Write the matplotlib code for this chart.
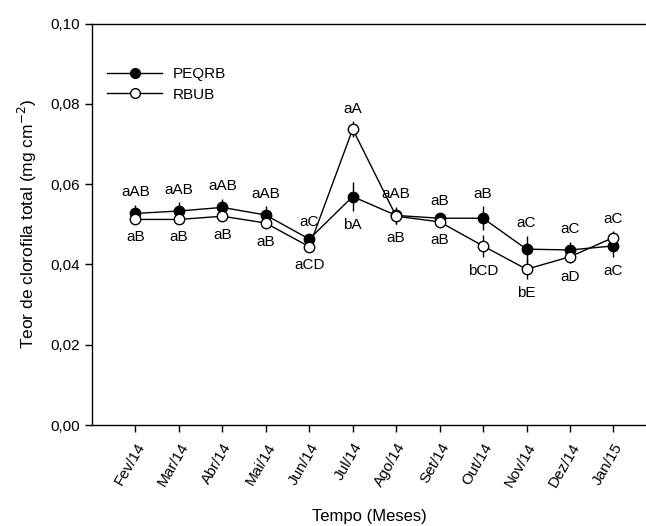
import matplotlib as mpl

mpl.use("Agg")
import matplotlib.pyplot as plt
from matplotlib.lines import Line2D
from matplotlib.ticker import FuncFormatter

mpl.rcParams.update({
    "font.family": ["Liberation Sans", "DejaVu Sans"],
    "font.size": 11,
})

months = ["Fev/14", "Mar/14", "Abr/14", "Mai/14", "Jun/14", "Jul/14",
          "Ago/14", "Set/14", "Out/14", "Nov/14", "Dez/14", "Jan/15"]

peqrb = [0.0527, 0.0533, 0.0542, 0.0523, 0.0463, 0.0569,
         0.0522, 0.0515, 0.0515, 0.0438, 0.0436, 0.0446]
peqrb_err = [0.0022, 0.0022, 0.0022, 0.0022, 0.0012, 0.0037,
             0.0022, 0.0012, 0.0030, 0.0033, 0.0020, 0.0027]
peqrb_lab = ["aAB", "aAB", "aAB", "aAB", "aC", "bA",
             "aAB", "aB", "aB", "aC", "aC", "aC"]

rbub = [0.0512, 0.0512, 0.0520, 0.0503, 0.0444, 0.0737,
        0.0520, 0.0506, 0.0446, 0.0388, 0.0419, 0.0467]
rbub_err = [0.0010, 0.0010, 0.0012, 0.0012, 0.0010, 0.0020,
            0.0020, 0.0010, 0.0027, 0.0025, 0.0015, 0.0015]
rbub_lab = ["aB", "aB", "aB", "aB", "aCD", "aA",
            "aB", "aB", "bCD", "bE", "aD", "aC"]

x = list(range(1, len(months) + 1))

fig = plt.figure(figsize=(6.46, 5.26), dpi=100)
ax = fig.add_axes([0.1424, 0.192, 0.8576, 0.7633])

ax.errorbar(x, peqrb, yerr=peqrb_err, color="black", marker="o", ms=7.5,
            mfc="black", mec="black", lw=1.0, elinewidth=1.0, capsize=0,
            zorder=3)
ax.errorbar(x, rbub, yerr=rbub_err, color="black", marker="o", ms=7.5,
            mfc="white", mec="black", mew=1.0, lw=1.0, elinewidth=1.0,
            capsize=0, zorder=4)

# letters: above for the higher series, below for the lower one
for i in range(len(x)):
    for val, err, lab, other in ((peqrb[i], peqrb_err[i], peqrb_lab[i], rbub[i]),
                                 (rbub[i], rbub_err[i], rbub_lab[i], peqrb[i])):
        if val >= other:
            ax.annotate(lab, (x[i], val + err), xytext=(0, 9),
                        textcoords="offset points", ha="center", va="center",
                        fontsize=11)
        else:
            ax.annotate(lab, (x[i], val - err), xytext=(0, -10),
                        textcoords="offset points", ha="center", va="center",
                        fontsize=11)

ax.set_xlim(0, 12.75)
ax.set_ylim(0, 0.10)
ax.set_xticks(x)
ax.set_xticklabels(months, rotation=60, ha="right", rotation_mode="anchor")
ax.set_yticks([0, 0.02, 0.04, 0.06, 0.08, 0.10])
ax.yaxis.set_major_formatter(FuncFormatter(lambda v, p: f"{v:.2f}".replace(".", ",")))
ax.tick_params(direction="out", length=5, width=1, top=False, right=False,
               labelsize=11)
ax.tick_params(axis="x", pad=6)
ax.spines["right"].set_visible(False)
for s in ("left", "bottom", "top"):
    ax.spines[s].set_linewidth(1.0)

ax.set_ylabel("Teor de clorofila total (mg cm$^{-2}$)", fontsize=12.5, labelpad=8)
ax.set_xlabel("Tempo (Meses)", fontsize=12, labelpad=14)

handles = [
    Line2D([], [], color="black", lw=1.0, marker="o", ms=7, mfc="black", mec="black"),
    Line2D([], [], color="black", lw=1.0, marker="o", ms=7, mfc="white", mec="black"),
]
ax.legend(handles, ["PEQRB", "RBUB"], loc="upper left",
          bbox_to_anchor=(0.0, 0.93), frameon=False,
          handlelength=3.6, fontsize=11,
          borderaxespad=0.6, handletextpad=0.7, labelspacing=0.45)

fig.savefig("out.png", dpi=100)
